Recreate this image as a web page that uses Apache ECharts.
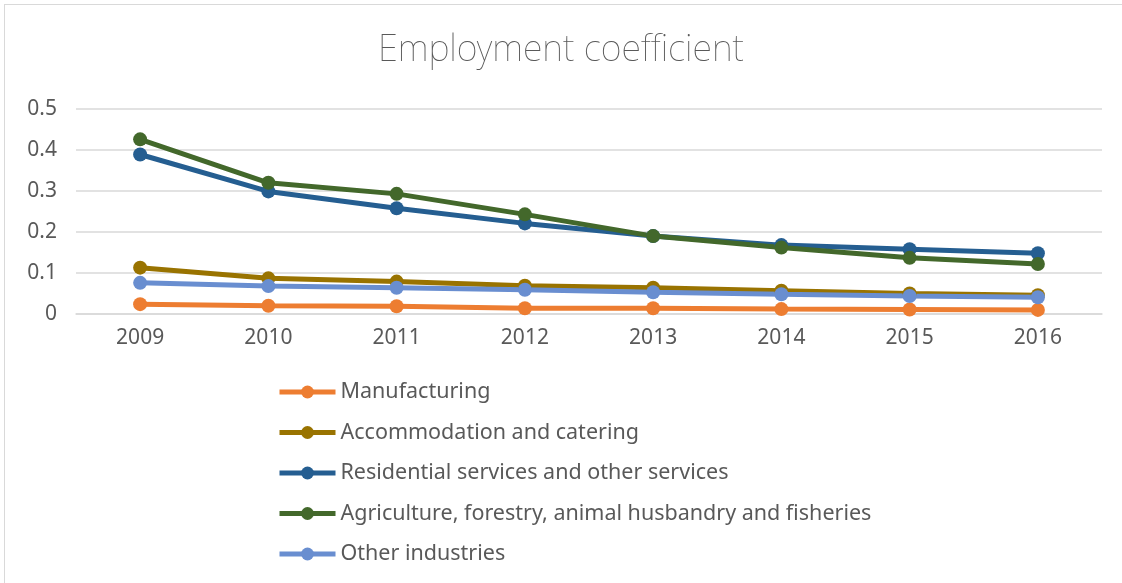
<!DOCTYPE html>
<html>
<head>
<meta charset="utf-8">
<script src="https://cdn.jsdelivr.net/npm/echarts@6/dist/echarts.min.js"></script>
<style>
html,body{margin:0;padding:0;background:#fff;}
#frame{position:absolute;left:4px;top:4px;width:1130px;height:590px;border:1px solid #d9d9d9;box-sizing:border-box;}
#chart{position:absolute;left:0;top:0;width:1122px;height:583px;}
</style>
</head>
<body>
<div id="frame"></div>
<div id="chart"></div>
<script>
const title = 'Employment coefficient';
const years = ['2009','2010','2011','2012','2013','2014','2015','2016'];
const seriesNames = ['Manufacturing','Accommodation and catering','Residential services and other services','Agriculture, forestry, animal husbandry and fisheries','Other industries'];
const manufacturing = [0.024,0.020,0.019,0.014,0.014,0.012,0.011,0.010];
const accommodation = [0.113,0.087,0.079,0.069,0.064,0.057,0.050,0.046];
const residential = [0.389,0.299,0.258,0.221,0.190,0.168,0.158,0.148];
const agriculture = [0.426,0.320,0.293,0.243,0.190,0.162,0.137,0.122];
const otherIndustries = [0.076,0.068,0.064,0.059,0.053,0.048,0.044,0.041];
const colors = ['#ED7D31','#997300','#255E91','#43682B','#698ED0'];
const allData = [manufacturing, accommodation, residential, agriculture, otherIndustries];

const font = '"Noto Sans", "Open Sans", sans-serif';
const chart = echarts.init(document.getElementById('chart'), null, {renderer:'canvas'});
chart.setOption({
  animation:false,
  color: colors,
  title:{text:title,left:'center',top:33,padding:0,textStyle:{fontFamily:font,fontSize:36,fontWeight:'lighter',color:'#595959'}},
  grid:{left:76,right:20,top:109,bottom:269,containLabel:false},
  xAxis:{type:'category',data:years,boundaryGap:true,
    axisLine:{show:true,lineStyle:{color:'#d9d9d9',width:1.5}},axisTick:{show:false},
    axisLabel:{fontFamily:font,fontSize:21,color:'#595959',margin:14}},
  yAxis:{type:'value',min:0,max:0.5,interval:0.1,
    axisLine:{show:false},axisTick:{show:false},
    splitLine:{lineStyle:{color:'#d9d9d9',width:1.5}},
    axisLabel:{fontFamily:font,fontSize:21,color:'#595959',margin:19}},
  legend:{orient:'vertical',left:277,top:381,padding:0,itemWidth:56,itemHeight:16,itemGap:18.5,itemTextGap:4,
    lineStyle:{width:5},
    textStyle:{fontFamily:font,fontSize:21.5,color:'#595959',lineHeight:22},
    data:seriesNames},
  series: seriesNames.map((n,i)=>({
    name:n,type:'line',data:allData[i],symbol:'circle',symbolSize:14,
    lineStyle:{width:5,color:colors[i]},itemStyle:{color:colors[i]}
  }))
});
</script>
</body>
</html>
